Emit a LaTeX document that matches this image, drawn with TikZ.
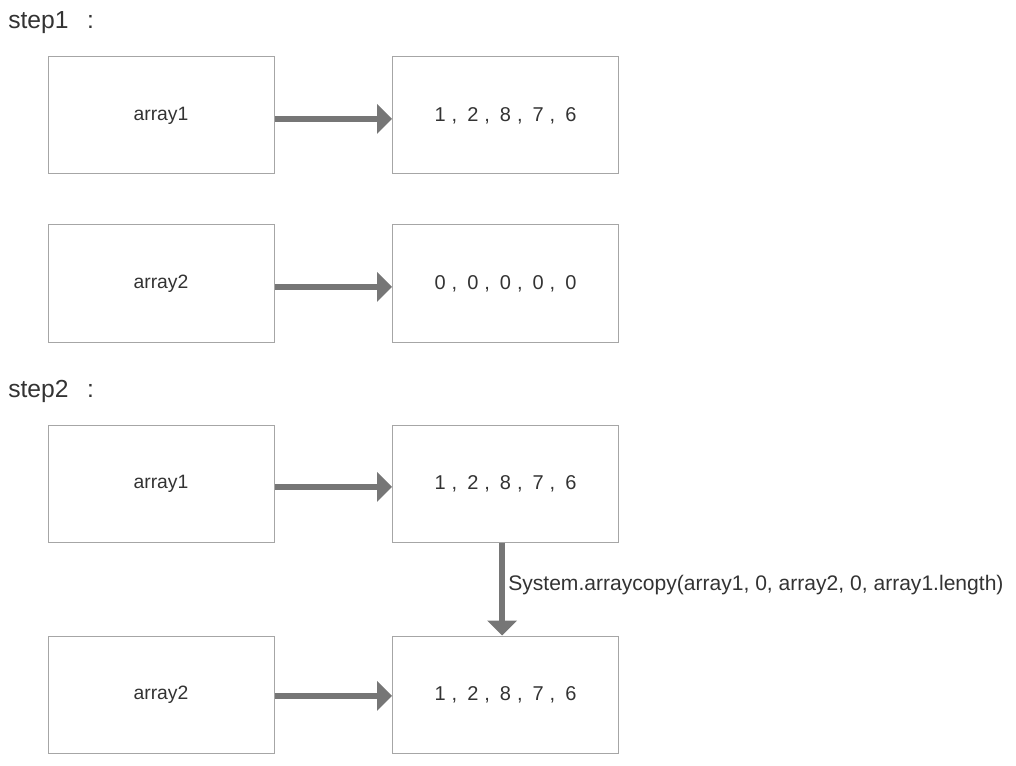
\documentclass[tikz,border=0pt]{standalone}
\usepackage{fontspec}
\setmainfont{Liberation Sans}
\newcommand{\fwc}{\kern4.5pt,\kern7.5pt}
\newcommand{\fwcolon}{\kern14pt:}
\usetikzlibrary{arrows.meta}
\definecolor{boxline}{HTML}{A6A6A6}
\definecolor{flowgray}{HTML}{767676}
\definecolor{ink}{HTML}{333333}
\begin{document}
\begin{tikzpicture}[x=0.75pt,y=-0.75pt,
  cell/.style={draw=boxline,line width=0.75pt,minimum width=169.5pt,minimum height=87.75pt,
    inner sep=0pt,text=ink,font=\fontsize{14.5}{17}\selectfont},
  vals/.style={cell,font=\fontsize{15}{18}\selectfont},
  flow/.style={draw=flowgray,line width=4.5pt,-{Triangle[length=11.25pt,width=21.75pt]}},
  steplabel/.style={anchor=base west,inner sep=0pt,text=ink,font=\fontsize{18.5}{22}\selectfont}]
  \useasboundingbox (0,0) rectangle (1016,766);
  \node[steplabel] (S1) at (8,29) {step1\fwcolon};
  \node[cell] (A1) at (161,115.5) {array1};
  \node[vals] (V1) at (505.5,115.5) {1\fwc2\fwc8\fwc7\fwc6};
  \node[cell] (A2) at (161,283.5) {array2};
  \node[vals] (V2) at (505.5,283.5) {0\fwc0\fwc0\fwc0\fwc0};
  \node[steplabel] (S2) at (8,397) {step2\fwcolon};
  \node[cell] (B1) at (161,483.5) {array1};
  \node[vals] (W1) at (505.5,483.5) {1\fwc2\fwc8\fwc7\fwc6};
  \node[cell] (B2) at (161,694.5) {array2};
  \node[vals] (W2) at (505.5,694.5) {1\fwc2\fwc8\fwc7\fwc6};
  \draw[flow] ([yshift=-2.5pt]A1.east) -- ([yshift=-2.5pt]V1.west);
  \draw[flow] ([yshift=-2.5pt]A2.east) -- ([yshift=-2.5pt]V2.west);
  \draw[flow] ([yshift=-2.5pt]B1.east) -- ([yshift=-2.5pt]W1.west);
  \draw[flow] ([yshift=-1pt]B2.east) -- ([yshift=-1pt]W2.west);
  \draw[flow] ([xshift=-2.5pt]W1.south) -- ([xshift=-2.5pt]W2.north)
    node[midway,right,xshift=-1pt,yshift=3pt,text=ink,font=\fontsize{15.8}{19}\selectfont]
    {System.arraycopy(array1, 0, array2, 0, array1.length)};
\end{tikzpicture}
\end{document}
